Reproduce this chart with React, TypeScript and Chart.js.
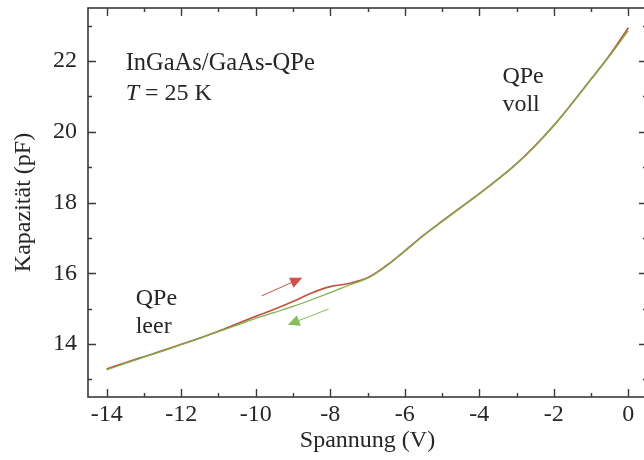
import React, { useEffect, useRef } from "react";
import { Chart, registerables } from "chart.js";

Chart.register(...registerables);

// ---- data ----
const voltage = [
  -14, -13.5, -13, -12.5, -12, -11.5, -11, -10.5, -10, -9.5, -9, -8.5, -8, -7.5, -7,
  -6.5, -6, -5.5, -5, -4.5, -4, -3.5, -3, -2.5, -2, -1.5, -1, -0.5, 0,
];
// sweep up (red): -14 V -> 0 V
const capUp = [
  13.29, 13.47, 13.64, 13.81, 13.99, 14.17, 14.36, 14.57, 14.78, 14.98, 15.2, 15.44, 15.62,
  15.71, 15.87, 16.21, 16.63, 17.07, 17.47, 17.86, 18.25, 18.66, 19.1, 19.61, 20.18, 20.82,
  21.49, 22.17, 22.94,
];
// sweep down (green): 0 V -> -14 V
const capDown = [
  13.27, 13.45, 13.63, 13.8, 13.98, 14.16, 14.35, 14.53, 14.72, 14.89, 15.06, 15.25, 15.45,
  15.66, 15.86, 16.2, 16.62, 17.06, 17.46, 17.85, 18.24, 18.65, 19.09, 19.6, 20.17, 20.81,
  21.48, 22.15, 22.86,
];

const xMajorTicks = [-14, -12, -10, -8, -6, -4, -2, 0];
const xMinorTicks = [-13, -11, -9, -7, -5, -3, -1];
const yMajorTicks = [14, 16, 18, 20, 22];
const yMinorTicks = [13, 15, 17, 19, 21, 23];

// arrows: [startV, startC, endV, endC]
const arrowUp = [-9.84, 15.36, -8.75, 15.87];
const arrowDown = [-8.04, 14.99, -9.14, 14.54];

const sampleLabel = "InGaAs/GaAs-QPe";
const tempLabelItalic = "T";
const tempLabelRest = " = 25 K";
const labelFullLines = ["QPe", "voll"];
const labelEmptyLines = ["QPe", "leer"];

const FONT_FAMILY = "'Liberation Serif', 'Times New Roman', serif";
const TEXT_COLOR = "#262626";
const RED = "rgba(188, 68, 48, 0.92)";
const GREEN = "#7ab24c";

const framePlugin = {
  id: "frameAndNotes",
  afterDraw(chart: any) {
    const { ctx, chartArea: a, scales } = chart;
    const xs = scales.x;
    const ys = scales.y;
    ctx.save();
    ctx.strokeStyle = "#3a3a3a";
    ctx.lineWidth = 1.6;
    ctx.strokeRect(a.left, a.top, a.right - a.left, a.bottom - a.top);

    ctx.lineWidth = 1.4;
    const drawX = (vals: number[], len: number) => {
      vals.forEach((v) => {
        const px = Math.round(xs.getPixelForValue(v)) + 0.5;
        ctx.beginPath();
        ctx.moveTo(px, a.bottom);
        ctx.lineTo(px, a.bottom - len);
        ctx.moveTo(px, a.top);
        ctx.lineTo(px, a.top + len);
        ctx.stroke();
      });
    };
    const drawY = (vals: number[], len: number) => {
      vals.forEach((v) => {
        const py = Math.round(ys.getPixelForValue(v)) + 0.5;
        ctx.beginPath();
        ctx.moveTo(a.left, py);
        ctx.lineTo(a.left + len, py);
        ctx.moveTo(a.right, py);
        ctx.lineTo(a.right - len, py);
        ctx.stroke();
      });
    };
    drawX(xMajorTicks, 8);
    drawX(xMinorTicks, 4);
    drawY(yMajorTicks, 8);
    drawY(yMinorTicks, 4);

    const arrow = (arr: number[], color: string) => {
      const x1 = xs.getPixelForValue(arr[0]);
      const y1 = ys.getPixelForValue(arr[1]);
      const x2 = xs.getPixelForValue(arr[2]);
      const y2 = ys.getPixelForValue(arr[3]);
      const ang = Math.atan2(y2 - y1, x2 - x1);
      const hl = 12;
      const hw = 5.5;
      ctx.strokeStyle = color;
      ctx.fillStyle = color;
      ctx.lineWidth = 1;
      ctx.beginPath();
      ctx.moveTo(x1, y1);
      ctx.lineTo(x2 - Math.cos(ang) * hl * 0.8, y2 - Math.sin(ang) * hl * 0.8);
      ctx.stroke();
      ctx.beginPath();
      ctx.moveTo(x2, y2);
      ctx.lineTo(
        x2 - Math.cos(ang) * hl + Math.sin(ang) * hw,
        y2 - Math.sin(ang) * hl - Math.cos(ang) * hw
      );
      ctx.lineTo(
        x2 - Math.cos(ang) * hl - Math.sin(ang) * hw,
        y2 - Math.sin(ang) * hl + Math.cos(ang) * hw
      );
      ctx.closePath();
      ctx.fill();
    };
    arrow(arrowUp, "#d0504a");
    arrow(arrowDown, "#86bd5c");

    ctx.fillStyle = TEXT_COLOR;
    ctx.textBaseline = "alphabetic";
    ctx.textAlign = "left";
    ctx.font = `24.5px ${FONT_FAMILY}`;
    const sx = xs.getPixelForValue(-13.49);
    ctx.fillText(sampleLabel, sx, ys.getPixelForValue(21.745));
    const ty = ys.getPixelForValue(20.9);
    ctx.font = `italic 24px ${FONT_FAMILY}`;
    ctx.fillText(tempLabelItalic, sx, ty);
    const tw = ctx.measureText(tempLabelItalic).width;
    ctx.font = `24px ${FONT_FAMILY}`;
    ctx.fillText(tempLabelRest, sx + tw, ty);

    const fx = xs.getPixelForValue(-3.38);
    ctx.fillText(labelFullLines[0], fx, ys.getPixelForValue(21.38));
    ctx.fillText(labelFullLines[1], fx, ys.getPixelForValue(20.6));

    const ex = xs.getPixelForValue(-13.22);
    ctx.fillText(labelEmptyLines[0], ex, ys.getPixelForValue(15.1));
    ctx.fillText(labelEmptyLines[1], ex, ys.getPixelForValue(14.31));
    ctx.restore();
  },
};

const zeroPadding = (s: any) => {
  s.paddingTop = 0;
  s.paddingBottom = 0;
  s.paddingLeft = 0;
  s.paddingRight = 0;
};

export default function App() {
  const ref = useRef<HTMLCanvasElement | null>(null);

  useEffect(() => {
    if (!ref.current) return;
    const font = { family: FONT_FAMILY, size: 24 };
    const chart = new Chart(ref.current, {
      type: "line",
      data: {
        datasets: [
          {
            label: "leer (rückwärts)",
            data: voltage.map((v, i) => ({ x: v, y: capDown[i] })),
            borderColor: GREEN,
            borderWidth: 1.3,
            pointRadius: 0,
            cubicInterpolationMode: "monotone",
            fill: false,
          },
          {
            label: "voll (vorwärts)",
            data: voltage.map((v, i) => ({ x: v, y: capUp[i] })),
            borderColor: RED,
            borderWidth: 1.7,
            pointRadius: 0,
            cubicInterpolationMode: "monotone",
            fill: false,
          },
        ],
      },
      options: {
        animation: false,
        responsive: false,
        devicePixelRatio: 1,
        layout: { padding: { top: 8, right: 13, left: 0, bottom: 0 } },
        plugins: { legend: { display: false }, tooltip: { enabled: false } },
        scales: {
          x: {
            type: "linear",
            min: -14.5,
            max: 0.5,
            afterBuildTicks: (s: any) => {
              s.ticks = xMajorTicks.map((v) => ({ value: v }));
            },
            afterFit: (s: any) => {
              s.height = 63;
              zeroPadding(s);
            },
            grid: { display: false, drawTicks: false },
            border: { display: false },
            ticks: {
              font,
              color: TEXT_COLOR,
              padding: 3,
              maxRotation: 0,
              autoSkip: false,
              callback: (v: any) => String(v),
            },
            title: {
              display: true,
              text: "Spannung (V)",
              font,
              color: TEXT_COLOR,
              padding: { top: 0, bottom: 5 },
            },
          },
          y: {
            type: "linear",
            min: 12.5,
            max: 23.5,
            afterBuildTicks: (s: any) => {
              s.ticks = yMajorTicks.map((v) => ({ value: v }));
            },
            afterFit: (s: any) => {
              s.width = 88;
              zeroPadding(s);
            },
            grid: { display: false, drawTicks: false },
            border: { display: false },
            ticks: {
              font,
              color: TEXT_COLOR,
              padding: 11,
              autoSkip: false,
              callback: (v: any) => String(v),
            },
            title: {
              display: true,
              text: "Kapazität (pF)",
              font,
              color: TEXT_COLOR,
              padding: { top: 9, bottom: 0 },
            },
          },
        },
      },
      plugins: [framePlugin],
    } as any);
    return () => chart.destroy();
  }, []);

  return (
    <div
      style={{
        position: "fixed",
        left: 0,
        top: 0,
        width: 644,
        height: 460,
        overflow: "hidden",
        background: "#fff",
      }}
    >
      <canvas ref={ref} width={660} height={460} style={{ display: "block" }} />
    </div>
  );
}
